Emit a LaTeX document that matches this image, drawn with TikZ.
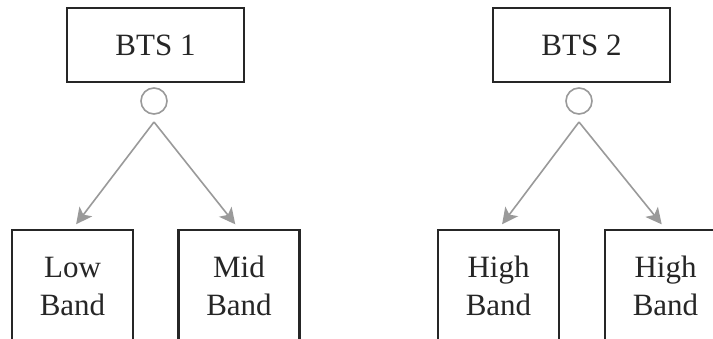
\documentclass[tikz,border=0pt]{standalone}
\usepackage{fontspec}
\setmainfont{Liberation Serif}
\usetikzlibrary{arrows.meta}
\definecolor{linkgray}{HTML}{9A9A9A}
\tikzset{
  station/.style={draw=black!85, line width=2.4pt, minimum width=177pt, minimum height=74pt,
    inner sep=0pt, font=\fontsize{31}{36}\selectfont, text=black!85},
  bandbox/.style={draw=black!85, line width=2.4pt, minimum width=121pt, minimum height=112pt,
    inner sep=0pt, align=center, font=\fontsize{31}{38}\selectfont, text=black!85, anchor=north},
  hub/.style={circle, draw=linkgray, line width=1.6pt, minimum size=26pt, inner sep=0pt},
  link/.style={draw=linkgray, line width=1.6pt, shorten >=6pt,
    -{Stealth[length=16pt, width=16pt, inset=4pt]}}
}
\begin{document}
\begin{tikzpicture}[x=1pt, y=-1pt]
  \useasboundingbox (0,0) rectangle (713,338);
  \clip (0,0) rectangle (713,338);
  \fill[white] (0,0) rectangle (713,338);

  % first base station
  \node[station] (bts1) at (155.5,45) {BTS 1};
  \node[hub] (hub1) at (154,101) {};
  \coordinate (split1) at (154,122);
  \node[bandbox] (low) at (72.5,229) {Low\\Band};
  \node[bandbox] (mid) at (239,229) {Mid\\Band};
  \draw[link] (split1) -- (low.north);
  \draw[link] (split1) -- (mid.north);

  % second base station
  \node[station] (bts2) at (581.5,45) {BTS 2};
  \node[hub] (hub2) at (579,101) {};
  \coordinate (split2) at (579,122);
  \node[bandbox] (high1) at (498.5,229) {High\\Band};
  \node[bandbox] (high2) at (665.5,229) {High\\Band};
  \draw[link] (split2) -- (high1.north);
  \draw[link] (split2) -- (high2.north);
\end{tikzpicture}
\end{document}
